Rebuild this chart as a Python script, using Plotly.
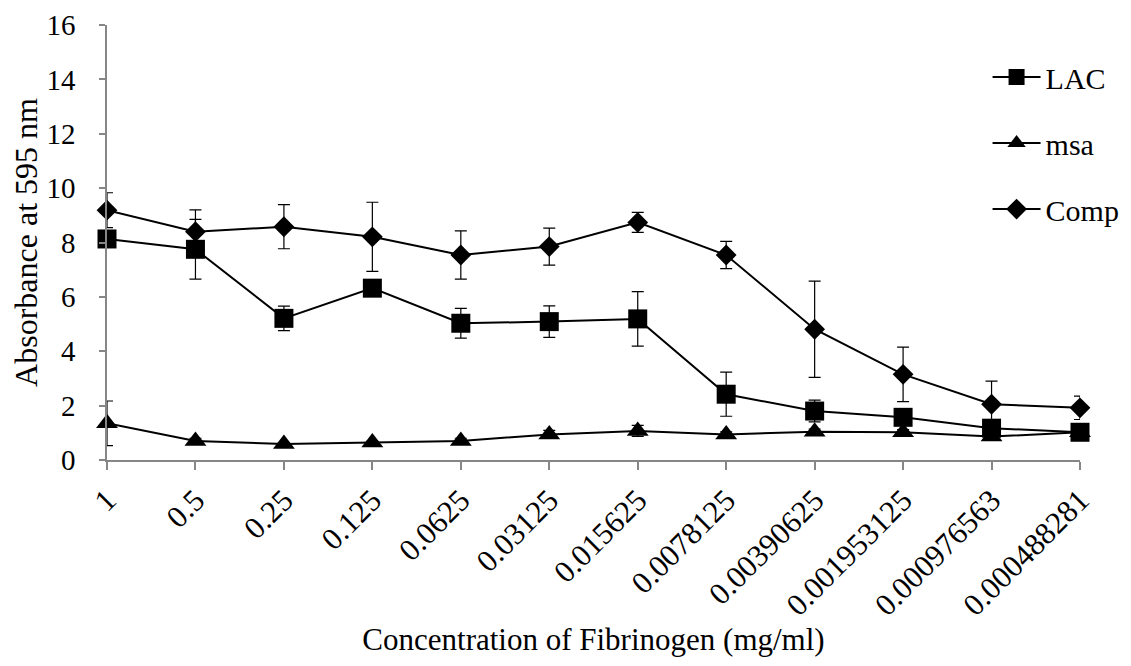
import plotly.graph_objects as go

categories = ["1", "0.5", "0.25", "0.125", "0.0625", "0.03125", "0.015625",
              "0.0078125", "0.00390625", "0.001953125", "0.000976563", "0.000488281"]

lac = [8.13, 7.75, 5.21, 6.32, 5.03, 5.09, 5.19, 2.42, 1.80, 1.57, 1.17, 1.02]
lac_err = [0.2, 1.1, 0.45, 0.2, 0.55, 0.58, 1.0, 0.81, 0.4, 0.25, 0.2, 0.15]

msa = [1.35, 0.70, 0.59, 0.64, 0.70, 0.94, 1.07, 0.94, 1.04, 1.02, 0.86, 1.02]
msa_err = [0.82, 0.1, 0.05, 0.05, 0.1, 0.15, 0.2, 0.1, 0.1, 0.1, 0.1, 0.1]

comp = [9.19, 8.40, 8.58, 8.21, 7.54, 7.85, 8.74, 7.54, 4.81, 3.15, 2.05, 1.92]
comp_err = [0.64, 0.8, 0.81, 1.27, 0.89, 0.68, 0.37, 0.5, 1.77, 1.0, 0.85, 0.43]

FONT = "Liberation Serif, Times New Roman, serif"

series = [
    ("LAC", lac, lac_err, "square", 19),
    ("msa", msa, msa_err, "triangle-up", 19),
    ("Comp", comp, comp_err, "diamond", 16),
]

fig = go.Figure()
for i, (name, vals, errs, sym, size) in enumerate(series):
    fig.add_trace(go.Scatter(
        x=categories, y=vals, name=name, mode="lines+markers",
        line=dict(color="black", width=2),
        marker=dict(symbol=sym, size=size, color="black"),
        error_y=dict(type="data", array=errs, visible=True,
                     color="black", thickness=1.2, width=6),
        cliponaxis=False, legendgroup=name,
    ))

fig.update_layout(
    width=1131, height=666,
    margin=dict(l=99, r=59, t=17, b=214, autoexpand=False),
    paper_bgcolor="white", plot_bgcolor="white",
    font=dict(family=FONT, size=29, color="black"),
    showlegend=True,
    legend=dict(x=0.905, y=0.94, xanchor="left", yanchor="top",
                font=dict(family=FONT, size=30, color="black"),
                bgcolor="rgba(0,0,0,0)", traceorder="grouped",
                tracegroupgap=24, itemwidth=48),
    xaxis=dict(
        type="category", range=[0, 11], automargin=False,
        showline=True, linecolor="#868686", linewidth=1.5,
        ticks="outside", ticklen=8, tickcolor="#868686", tickwidth=1.5,
        tickangle=-45, showgrid=False, zeroline=False,
        tickfont=dict(family=FONT, size=31, color="black"),
        ticklabelstandoff=0,
        title=dict(text="Concentration of Fibrinogen (mg/ml)",
                   font=dict(family=FONT, size=31, color="black"), standoff=2),
    ),
    yaxis=dict(
        range=[0, 16], dtick=2, tick0=0, automargin=False,
        showline=True, linecolor="#868686", linewidth=1.5,
        ticks="outside", ticklen=6, tickcolor="#868686", tickwidth=1.5,
        showgrid=False, zeroline=False,
        tickfont=dict(family=FONT, size=29, color="black"),
        ticklabelstandoff=18,
        title=dict(text="Absorbance at 595 nm",
                   font=dict(family=FONT, size=32, color="black"), standoff=18),
    ),
)

fig.write_html("out.html")
